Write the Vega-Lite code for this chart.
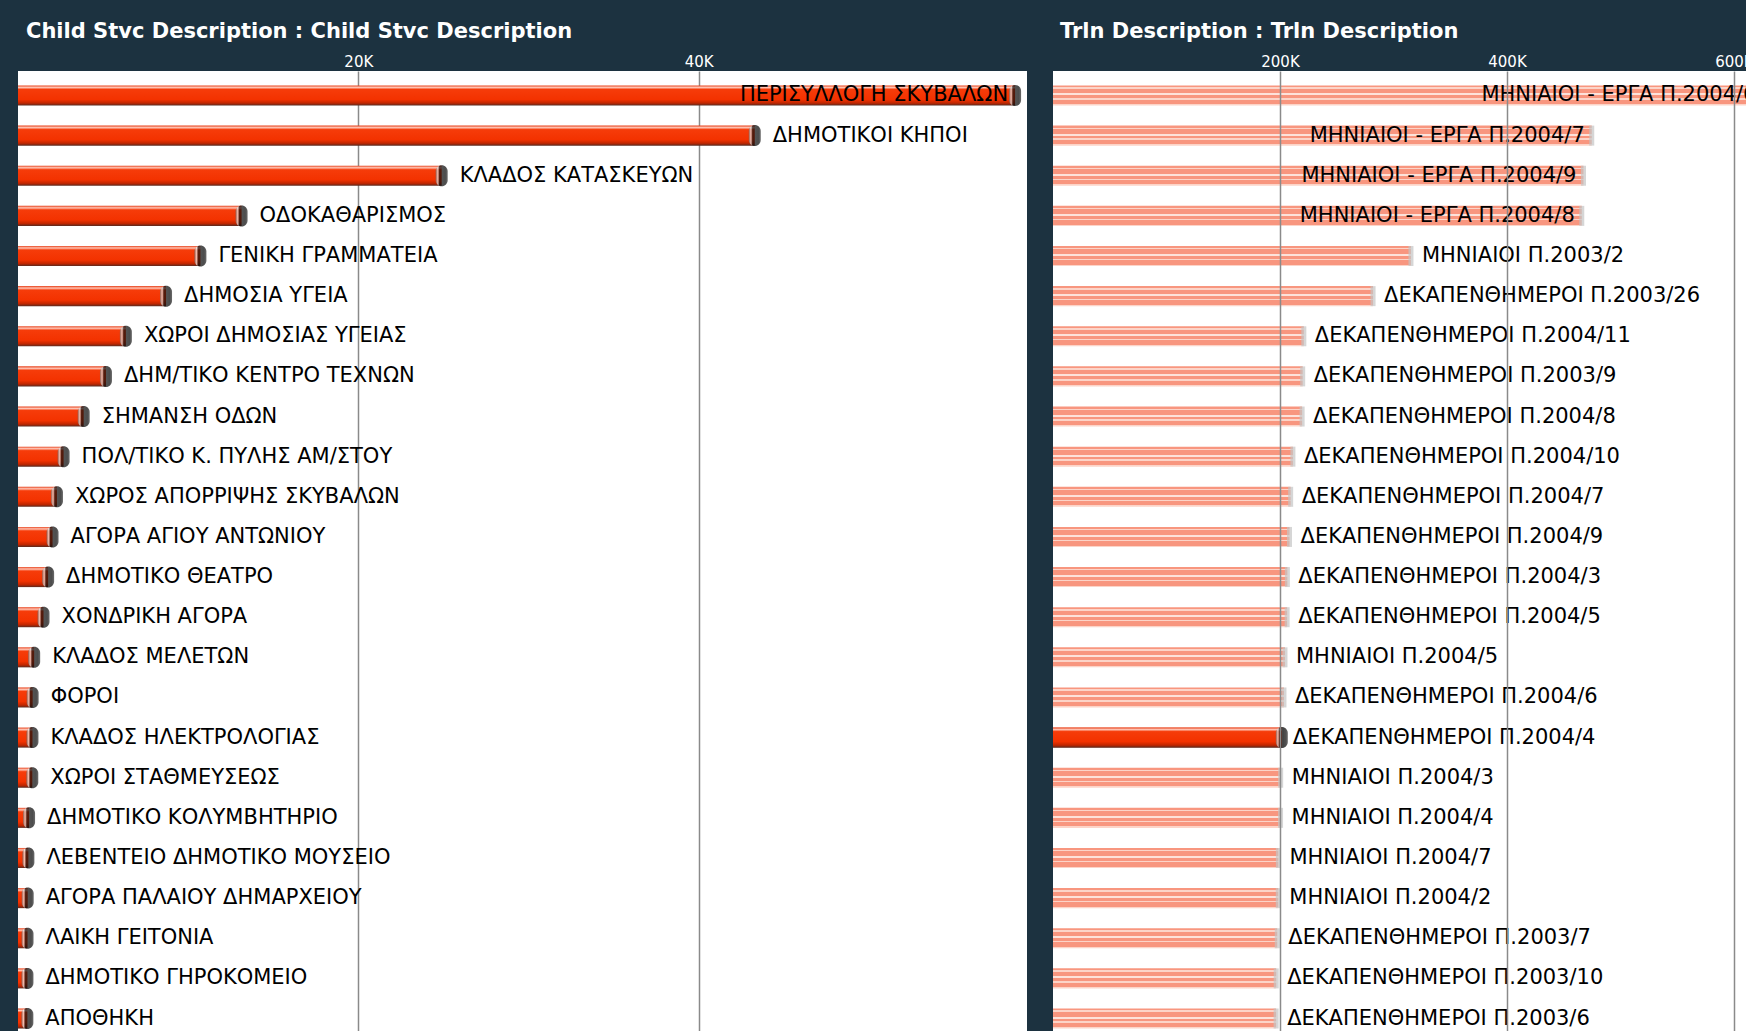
{
  "$schema": "https://vega.github.io/schema/vega-lite/v6.json",
  "background": "#1c3240",
  "padding": {"left": 18, "top": 21, "right": 0, "bottom": 0},
  "bounds": "flush",
  "spacing": 26,
  "config": {
    "view": {"stroke": null, "fill": "white"},
    "axis": {
      "orient": "top",
      "domain": false,
      "ticks": false,
      "grid": true,
      "gridColor": "#8a8a8a",
      "gridWidth": 1.5,
      "labelColor": "white",
      "labelFont": "DejaVu Sans",
      "labelFontSize": 15,
      "labelPadding": 2,
      "title": null
    },
    "title": {
      "anchor": "start",
      "frame": "group",
      "color": "white",
      "font": "DejaVu Sans",
      "fontWeight": "bold",
      "fontSize": 21,
      "offset": 12
    },
    "text": {"font": "DejaVu Sans", "fontSize": 21, "color": "black", "baseline": "middle"}
  },
  "hconcat": [
    {
      "width": 1009,
      "height": 972,
      "title": {"text": "Child Stvc Description : Child Stvc Description", "dx": 8},
      "data": {
        "values": [
          {"name": "ΠΕΡΙΣΥΛΛΟΓΗ ΣΚΥΒΑΛΩΝ", "value": 58600},
          {"name": "ΔΗΜΟΤΙΚΟΙ ΚΗΠΟΙ", "value": 43300},
          {"name": "ΚΛΑΔΟΣ ΚΑΤΑΣΚΕΥΩΝ", "value": 24900},
          {"name": "ΟΔΟΚΑΘΑΡΙΣΜΟΣ", "value": 13140},
          {"name": "ΓΕΝΙΚΗ ΓΡΑΜΜΑΤΕΙΑ", "value": 10720},
          {"name": "ΔΗΜΟΣΙΑ ΥΓΕΙΑ", "value": 8700},
          {"name": "ΧΩΡΟΙ ΔΗΜΟΣΙΑΣ ΥΓΕΙΑΣ", "value": 6340},
          {"name": "ΔΗΜ/ΤΙΚΟ ΚΕΝΤΡΟ ΤΕΧΝΩΝ", "value": 5170},
          {"name": "ΣΗΜΑΝΣΗ ΟΔΩΝ", "value": 3860},
          {"name": "ΠΟΛ/ΤΙΚΟ Κ. ΠΥΛΗΣ ΑΜ/ΣΤΟΥ", "value": 2680},
          {"name": "ΧΩΡΟΣ ΑΠΟΡΡΙΨΗΣ ΣΚΥΒΑΛΩΝ", "value": 2290},
          {"name": "ΑΓΟΡΑ ΑΓΙΟΥ ΑΝΤΩΝΙΟΥ", "value": 2030},
          {"name": "ΔΗΜΟΤΙΚΟ ΘΕΑΤΡΟ", "value": 1770},
          {"name": "ΧΟΝΔΡΙΚΗ ΑΓΟΡΑ", "value": 1500},
          {"name": "ΚΛΑΔΟΣ ΜΕΛΕΤΩΝ", "value": 950},
          {"name": "ΦΟΡΟΙ", "value": 860},
          {"name": "ΚΛΑΔΟΣ ΗΛΕΚΤΡΟΛΟΓΙΑΣ", "value": 850},
          {"name": "ΧΩΡΟΙ ΣΤΑΘΜΕΥΣΕΩΣ", "value": 840},
          {"name": "ΔΗΜΟΤΙΚΟ ΚΟΛΥΜΒΗΤΗΡΙΟ", "value": 650},
          {"name": "ΛΕΒΕΝΤΕΙΟ ΔΗΜΟΤΙΚΟ ΜΟΥΣΕΙΟ", "value": 610},
          {"name": "ΑΓΟΡΑ ΠΑΛΑΙΟΥ ΔΗΜΑΡΧΕΙΟΥ", "value": 570},
          {"name": "ΛΑΙΚΗ ΓΕΙΤΟΝΙΑ", "value": 560},
          {"name": "ΔΗΜΟΤΙΚΟ ΓΗΡΟΚΟΜΕΙΟ", "value": 555},
          {"name": "ΑΠΟΘΗΚΗ", "value": 550}
        ]
      },
      "encoding": {
        "y": {"field": "name", "type": "nominal", "sort": null, "axis": null,
              "scale": {"paddingInner": 0.5, "paddingOuter": 0.36}},
        "x": {"field": "value", "type": "quantitative",
              "scale": {"domain": [0, 59300], "nice": false, "zero": true},
              "axis": {"values": [20000, 40000], "labelExpr": "datum.value / 1000 + 'K'"}}
      },
      "layer": [
        {
          "mark": {
            "type": "bar",
            "color": {
              "gradient": "linear", "x1": 0, "y1": 0, "x2": 0, "y2": 1,
              "stops": [
                {"offset": 0, "color": "#e8421c"},
                {"offset": 0.1, "color": "#ffc4b4"},
                {"offset": 0.2, "color": "#f63c0a"},
                {"offset": 0.7, "color": "#f33200"},
                {"offset": 0.88, "color": "#c02600"},
                {"offset": 1, "color": "#5a2a20"}
              ]
            }
          }
        },
        {
          "mark": {
            "type": "tick", "thickness": 12, "size": 21, "cornerRadius": 6,
            "color": {
              "gradient": "linear", "x1": 0, "y1": 0, "x2": 1, "y2": 0,
              "stops": [
                {"offset": 0, "color": "#6a6a6a"},
                {"offset": 0.18, "color": "#f4f4f4"},
                {"offset": 0.32, "color": "#111111"},
                {"offset": 0.8, "color": "#000000"},
                {"offset": 1, "color": "#2a2a2a"}
              ]
            }
          }
        },
        {
          "transform": [{"filter": "datum.value < 50000"}],
          "mark": {"type": "text", "align": "left", "dx": 18},
          "encoding": {"text": {"field": "name"}}
        },
        {
          "transform": [{"filter": "datum.value >= 50000"}],
          "mark": {"type": "text", "align": "right", "dx": -7},
          "encoding": {"text": {"field": "name"}}
        }
      ]
    },
    {
      "width": 693,
      "height": 972,
      "title": {"text": "Trln Description : Trln Description", "dx": 7},
      "data": {
        "values": [
          {"name": "ΜΗΝΙΑΙΟΙ - ΕΡΓΑ Π.2004/6", "value": 626000},
          {"name": "ΜΗΝΙΑΙΟΙ - ΕΡΓΑ Π.2004/7", "value": 474700},
          {"name": "ΜΗΝΙΑΙΟΙ - ΕΡΓΑ Π.2004/9", "value": 467400},
          {"name": "ΜΗΝΙΑΙΟΙ - ΕΡΓΑ Π.2004/8", "value": 465900},
          {"name": "ΜΗΝΙΑΙΟΙ Π.2003/2", "value": 315400},
          {"name": "ΔΕΚΑΠΕΝΘΗΜΕΡΟΙ Π.2003/26", "value": 282000},
          {"name": "ΔΕΚΑΠΕΝΘΗΜΕΡΟΙ Π.2004/11", "value": 221000},
          {"name": "ΔΕΚΑΠΕΝΘΗΜΕΡΟΙ Π.2003/9", "value": 220000},
          {"name": "ΔΕΚΑΠΕΝΘΗΜΕΡΟΙ Π.2004/8", "value": 219500},
          {"name": "ΔΕΚΑΠΕΝΘΗΜΕΡΟΙ Π.2004/10", "value": 211400},
          {"name": "ΔΕΚΑΠΕΝΘΗΜΕΡΟΙ Π.2004/7", "value": 209400},
          {"name": "ΔΕΚΑΠΕΝΘΗΜΕΡΟΙ Π.2004/9", "value": 208400},
          {"name": "ΔΕΚΑΠΕΝΘΗΜΕΡΟΙ Π.2004/3", "value": 206500},
          {"name": "ΔΕΚΑΠΕΝΘΗΜΕΡΟΙ Π.2004/5", "value": 206300},
          {"name": "ΜΗΝΙΑΙΟΙ Π.2004/5", "value": 204400},
          {"name": "ΔΕΚΑΠΕΝΘΗΜΕΡΟΙ Π.2004/6", "value": 203500},
          {"name": "ΔΕΚΑΠΕΝΘΗΜΕΡΟΙ Π.2004/4", "value": 201600},
          {"name": "ΜΗΝΙΑΙΟΙ Π.2004/3", "value": 200600},
          {"name": "ΜΗΝΙΑΙΟΙ Π.2004/4", "value": 200500},
          {"name": "ΜΗΝΙΑΙΟΙ Π.2004/7", "value": 198600},
          {"name": "ΜΗΝΙΑΙΟΙ Π.2004/2", "value": 198500},
          {"name": "ΔΕΚΑΠΕΝΘΗΜΕΡΟΙ Π.2003/7", "value": 197600},
          {"name": "ΔΕΚΑΠΕΝΘΗΜΕΡΟΙ Π.2003/10", "value": 196700},
          {"name": "ΔΕΚΑΠΕΝΘΗΜΕΡΟΙ Π.2003/6", "value": 196600}
        ]
      },
      "encoding": {
        "y": {"field": "name", "type": "nominal", "sort": null, "axis": null,
              "scale": {"paddingInner": 0.5, "paddingOuter": 0.36}},
        "x": {"field": "value", "type": "quantitative",
              "scale": {"domain": [0, 610600], "nice": false, "zero": true},
              "axis": {"values": [200000, 400000, 600000], "labelExpr": "datum.value / 1000 + 'K'", "zindex": 1}}
      },
      "layer": [
        {
          "mark": {
            "type": "bar", "clip": true,
            "color": {
              "gradient": "linear", "x1": 0, "y1": 0, "x2": 0, "y2": 1,
              "stops": [
                {"offset": 0, "color": "#f8967f"},
                {"offset": 0.1, "color": "#f8967f"},
                {"offset": 0.1, "color": "#fcd4c8"},
                {"offset": 0.17, "color": "#fcd4c8"},
                {"offset": 0.17, "color": "#f8967f"},
                {"offset": 0.4, "color": "#f8967f"},
                {"offset": 0.4, "color": "#fde2da"},
                {"offset": 0.5, "color": "#fde2da"},
                {"offset": 0.5, "color": "#f8967f"},
                {"offset": 0.64, "color": "#f8967f"},
                {"offset": 0.64, "color": "#fcd4c8"},
                {"offset": 0.71, "color": "#fcd4c8"},
                {"offset": 0.71, "color": "#f8967f"},
                {"offset": 0.93, "color": "#f8967f"},
                {"offset": 0.93, "color": "#fcd4c8"},
                {"offset": 1, "color": "#fcd4c8"}
              ]
            }
          }
        },
        {
          "mark": {"type": "tick", "thickness": 5, "size": 20, "color": "#c4c4c4", "clip": true}
        },
        {
          "transform": [{"filter": "datum.name === 'ΔΕΚΑΠΕΝΘΗΜΕΡΟΙ Π.2004/4'"}],
          "mark": {
            "type": "bar",
            "color": {
              "gradient": "linear", "x1": 0, "y1": 0, "x2": 0, "y2": 1,
              "stops": [
                {"offset": 0, "color": "#e8421c"},
                {"offset": 0.1, "color": "#ffc4b4"},
                {"offset": 0.2, "color": "#f63c0a"},
                {"offset": 0.7, "color": "#f33200"},
                {"offset": 0.88, "color": "#c02600"},
                {"offset": 1, "color": "#5a2a20"}
              ]
            }
          }
        },
        {
          "transform": [{"filter": "datum.name === 'ΔΕΚΑΠΕΝΘΗΜΕΡΟΙ Π.2004/4'"}],
          "mark": {
            "type": "tick", "thickness": 12, "size": 21, "cornerRadius": 6,
            "color": {
              "gradient": "linear", "x1": 0, "y1": 0, "x2": 1, "y2": 0,
              "stops": [
                {"offset": 0, "color": "#6a6a6a"},
                {"offset": 0.18, "color": "#f4f4f4"},
                {"offset": 0.32, "color": "#111111"},
                {"offset": 0.8, "color": "#000000"},
                {"offset": 1, "color": "#2a2a2a"}
              ]
            }
          }
        },
        {
          "transform": [{"filter": "datum.value < 400000"}],
          "mark": {"type": "text", "align": "left", "dx": 11},
          "encoding": {"text": {"field": "name"}}
        },
        {
          "transform": [{"filter": "datum.value >= 400000"}],
          "mark": {"type": "text", "align": "right", "dx": -7, "clip": true},
          "encoding": {"text": {"field": "name"}}
        }
      ]
    }
  ]
}
